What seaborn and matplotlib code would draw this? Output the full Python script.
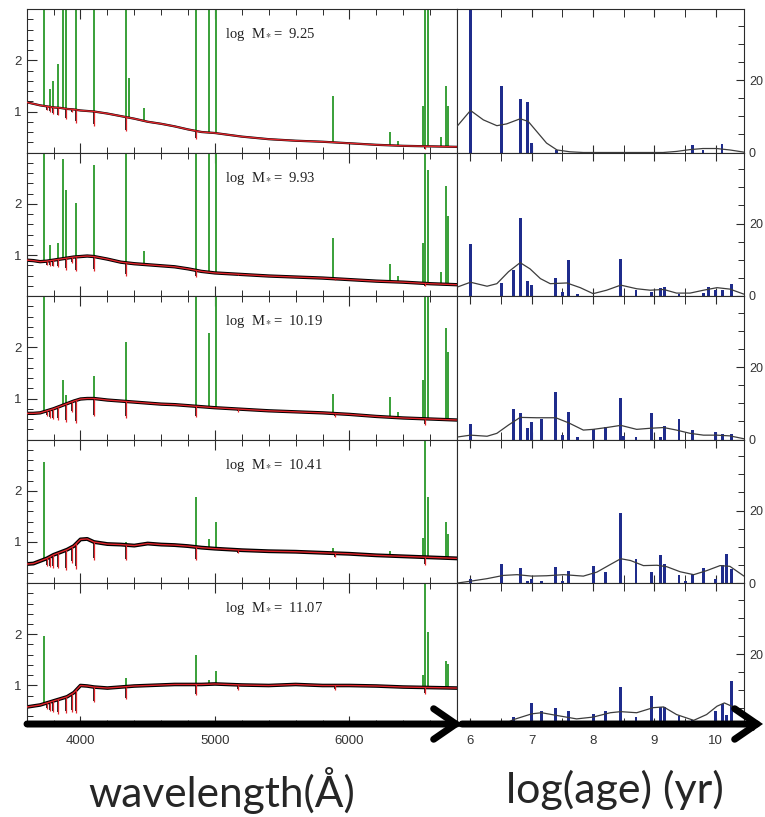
import numpy as np
import matplotlib
matplotlib.use('Agg')
import matplotlib.pyplot as plt
import seaborn as sns
from matplotlib.ticker import MultipleLocator, FixedLocator
from matplotlib.patches import FancyArrowPatch

sns.set_style('ticks')
plt.rcParams['font.family'] = ['Liberation Sans', 'DejaVu Sans']
plt.rcParams['mathtext.fontset'] = 'stix'

# ---------------- data ----------------
LOG_MASS = ['9.25', '9.93', '10.19', '10.41', '11.07']

# continuum of the spectra (normalised flux) at these wavelengths
CONT_WL = [3600, 3650, 3700, 3750, 3800, 3850, 3900, 3950, 4000, 4050, 4100, 4200, 4300,
           4400, 4500, 4600, 4700, 4800, 4900, 5000, 5200, 5400, 5600, 5800, 6000, 6200,
           6400, 6600, 6800]
CONT_1 = [1.18, 1.15, 1.12, 1.10, 1.08, 1.07, 1.05, 1.04, 1.02, 1.01, 1.00, 0.96, 0.91,
          0.86, 0.80, 0.76, 0.71, 0.65, 0.60, 0.58, 0.51, 0.46, 0.43, 0.41, 0.38, 0.35,
          0.33, 0.32, 0.31]
CONT_2 = [0.90, 0.89, 0.87, 0.88, 0.90, 0.92, 0.94, 0.96, 0.97, 0.98, 0.97, 0.92, 0.86,
          0.83, 0.81, 0.79, 0.77, 0.73, 0.68, 0.65, 0.62, 0.59, 0.57, 0.55, 0.52, 0.49,
          0.47, 0.44, 0.42]
CONT_3 = [0.71, 0.71, 0.72, 0.76, 0.80, 0.85, 0.90, 0.95, 0.99, 1.00, 1.00, 0.97, 0.95,
          0.93, 0.91, 0.89, 0.88, 0.86, 0.84, 0.82, 0.79, 0.76, 0.74, 0.72, 0.69, 0.65,
          0.62, 0.60, 0.58]
CONT_4 = [0.57, 0.58, 0.63, 0.68, 0.75, 0.80, 0.85, 0.92, 1.05, 1.06, 1.00, 0.96, 0.95,
          0.93, 0.97, 0.95, 0.94, 0.92, 0.89, 0.87, 0.84, 0.82, 0.81, 0.79, 0.77, 0.74,
          0.72, 0.70, 0.68]
CONT_5 = [0.58, 0.60, 0.62, 0.66, 0.70, 0.74, 0.78, 0.86, 1.00, 0.99, 0.97, 0.95, 0.97,
          0.99, 1.00, 1.01, 1.02, 1.02, 1.02, 1.03, 1.01, 1.00, 1.02, 1.00, 1.00, 0.99,
          0.97, 0.96, 0.95]
CONTINUA = [CONT_1, CONT_2, CONT_3, CONT_4, CONT_5]

# absorption features (depth below continuum)
ABS_WL = [3750, 3771, 3798, 3835, 3889, 3934, 3970, 4101, 4340, 4861, 5175, 5890, 6563]
ABS_DEPTH = [
    [0.08, 0.10, 0.12, 0.15, 0.20, 0.05, 0.25, 0.28, 0.28, 0.15, 0.00, 0.00, 0.06],
    [0.08, 0.10, 0.12, 0.15, 0.22, 0.10, 0.28, 0.28, 0.25, 0.12, 0.02, 0.03, 0.06],
    [0.10, 0.15, 0.20, 0.25, 0.35, 0.20, 0.45, 0.35, 0.32, 0.20, 0.05, 0.06, 0.12],
    [0.15, 0.20, 0.25, 0.30, 0.38, 0.30, 0.50, 0.35, 0.30, 0.25, 0.06, 0.08, 0.15],
    [0.12, 0.18, 0.22, 0.28, 0.30, 0.35, 0.45, 0.30, 0.25, 0.20, 0.10, 0.08, 0.12],
]

# emission lines (peak flux, 0 = not seen)
EMIS_WL = [3727, 3771, 3798, 3835, 3869, 3889, 3970, 4101, 4340, 4363, 4471, 4861, 4959,
           5007, 5876, 6300, 6364, 6548, 6563, 6584, 6678, 6717, 6731]
EMIS_PEAK = [
    [3.5, 1.44, 1.60, 1.92, 3.5, 3.5, 3.5, 3.5, 3.5, 1.66, 1.07, 3.5, 3.5, 3.5, 1.31, 0.60,
     0.43, 1.10, 3.5, 3.5, 0.50, 1.49, 1.10],
    [3.5, 1.19, 0.0, 1.23, 2.87, 2.27, 2.01, 2.76, 3.5, 0.0, 1.08, 3.5, 3.5, 3.5, 1.34, 0.83,
     0.60, 1.23, 3.5, 2.66, 0.66, 2.34, 1.77],
    [3.5, 0.0, 0.0, 0.0, 1.36, 1.07, 0.0, 1.44, 2.11, 0.0, 0.0, 3.5, 2.27, 3.5, 1.08, 1.02,
     0.73, 1.36, 3.5, 3.0, 0.0, 2.37, 1.90],
    [2.57, 0.0, 0.0, 0.0, 0.0, 0.0, 0.0, 0.0, 1.0, 0.0, 0.0, 1.87, 1.05, 1.40, 0.88, 0.82,
     0.0, 1.08, 3.5, 1.87, 0.0, 1.39, 1.16],
    [1.97, 0.0, 0.0, 0.0, 0.0, 0.0, 0.0, 0.0, 1.15, 0.0, 0.0, 1.60, 1.10, 1.28, 0.0, 0.0,
     0.0, 1.20, 3.5, 2.05, 0.0, 1.48, 1.41],
]
NOISE_LW = [1.6, 2.4, 2.4, 2.8, 2.6]

# star formation history: bars and smoothed curve
BAR_AGE = [
    [6.0, 6.5, 6.81, 6.93, 6.99, 7.4, 9.62, 9.79, 10.1],
    [6.0, 6.5, 6.70, 6.81, 6.93, 7.0, 7.39, 7.50, 7.60, 7.74, 8.45, 8.70, 8.95, 9.10, 9.16,
     9.40, 9.80, 9.88, 10.0, 10.11, 10.26],
    [6.0, 6.70, 6.81, 6.93, 7.0, 7.16, 7.39, 7.50, 7.60, 7.74, 8.0, 8.20, 8.45, 8.50, 8.70,
     8.95, 9.10, 9.16, 9.40, 9.62, 10.0, 10.11, 10.26],
    [6.0, 6.5, 6.81, 6.93, 7.0, 7.16, 7.39, 7.50, 7.60, 8.0, 8.20, 8.45, 8.70, 8.95, 9.10,
     9.16, 9.40, 9.50, 9.62, 9.80, 10.0, 10.11, 10.17, 10.26],
    [6.0, 6.70, 6.93, 7.0, 7.16, 7.39, 7.60, 8.0, 8.20, 8.45, 8.70, 8.95, 9.10, 9.16, 9.40,
     9.62, 10.0, 10.11, 10.17, 10.26],
]
BAR_HEIGHT = [
    [45, 18.4, 14.9, 14.0, 2.6, 0.7, 2.0, 0.7, 2.3],
    [14.3, 3.7, 7.1, 21.6, 4.2, 3.1, 4.9, 1.1, 9.8, 0.6, 10.2, 1.6, 1.1, 2.2, 2.4, 0.6, 0.8,
     2.6, 1.6, 1.7, 3.2],
    [4.3, 8.3, 7.4, 3.2, 4.8, 5.6, 13.1, 1.2, 7.6, 0.7, 2.8, 3.4, 11.5, 0.9, 0.7, 7.3, 0.7,
     3.7, 5.6, 2.6, 2.1, 1.4, 1.6],
    [1.2, 5.3, 4.2, 0.65, 1.0, 0.65, 4.5, 0.6, 3.2, 4.6, 3.0, 19.4, 6.6, 3.0, 7.7, 5.3, 2.3,
     0.6, 2.5, 4.2, 1.0, 5.1, 8.1, 4.0],
    [1.5, 2.6, 1.5, 6.6, 4.4, 5.1, 4.3, 3.5, 4.3, 10.9, 2.7, 8.4, 5.4, 5.4, 3.0, 1.7, 4.4,
     6.3, 3.3, 12.6],
]
CURVE_AGE = [
    [5.78, 6.0, 6.21, 6.43, 6.59, 6.81, 6.94, 7.08, 7.24, 7.41, 7.62, 7.84, 9.14, 9.36, 9.58,
     9.79, 10.01, 10.23, 10.46],
    [5.79, 6.0, 6.27, 6.43, 6.62, 6.81, 6.97, 7.14, 7.30, 7.57, 7.79, 8.0, 8.22, 8.45, 8.71,
     8.93, 9.15, 9.36, 9.58, 9.80, 10.02, 10.23, 10.46],
    [5.79, 6.0, 6.27, 6.43, 6.62, 6.81, 7.08, 7.39, 7.60, 7.84, 8.0, 8.22, 8.45, 8.71, 8.93,
     9.15, 9.36, 9.58, 9.80, 10.02, 10.23, 10.46],
    [5.79, 6.0, 6.27, 6.54, 6.76, 7.0, 7.24, 7.52, 7.84, 8.06, 8.28, 8.45, 8.61, 8.82, 9.04,
     9.20, 9.42, 9.64, 9.85, 10.07, 10.23, 10.46],
    [6.48, 6.70, 7.0, 7.16, 7.39, 7.73, 8.0, 8.28, 8.45, 8.71, 8.98, 9.15, 9.36, 9.64, 9.85,
     10.02, 10.14, 10.26, 10.46],
]
CURVE_VAL = [
    [7.2, 11.6, 9.0, 7.4, 7.9, 9.3, 8.6, 5.8, 2.6, 0.7, 0.2, 0.0, 0.0, 0.3, 0.8, 1.1, 1.1,
     0.7, 0.1],
    [2.5, 3.8, 2.7, 3.4, 6.7, 9.2, 7.5, 4.8, 3.4, 3.6, 2.3, 0.65, 1.6, 3.0, 2.0, 1.6, 1.8,
     0.8, 0.8, 1.6, 2.3, 1.9, 0.5],
    [0.7, 1.2, 0.9, 1.7, 4.0, 6.1, 6.0, 6.0, 4.6, 2.6, 2.8, 3.3, 3.9, 2.8, 3.1, 3.3, 2.6,
     1.7, 1.2, 1.2, 1.0, 0.2],
    [0.0, 0.5, 1.2, 2.1, 2.3, 1.9, 2.0, 2.3, 1.9, 3.0, 5.1, 6.7, 6.2, 4.8, 4.9, 4.5, 3.1,
     2.3, 3.4, 4.8, 4.6, 1.9],
    [0.0, 1.9, 3.5, 3.8, 3.1, 2.1, 2.6, 3.8, 4.1, 3.8, 5.2, 5.4, 3.3, 1.7, 3.3, 5.6, 6.5,
     5.6, 2.9],
]

GREEN = '#38a038'
RED = '#e0252b'
NAVY = '#1f2c8c'
FRAME = '#2b2b2b'

fig = plt.figure(figsize=(7.65, 8.17), dpi=100)
gs = fig.add_gridspec(5, 2, width_ratios=[430.3, 287],
                      left=26.7 / 765, right=744 / 765,
                      top=1 - 9 / 817, bottom=1 - 726.5 / 817,
                      hspace=0, wspace=0)

for i in range(5):
    axL = fig.add_subplot(gs[i, 0])
    axR = fig.add_subplot(gs[i, 1])
    cont = CONTINUA[i]

    # emission lines (green) from the continuum up
    peak = np.array(EMIS_PEAK[i])
    base = np.interp(EMIS_WL, CONT_WL, cont)
    keep = peak > base
    axL.vlines(np.array(EMIS_WL)[keep], base[keep], peak[keep], color=GREEN, lw=1.4, zorder=1)

    # observed (black) and model (red) spectra
    abs_base = np.interp(ABS_WL, CONT_WL, cont)
    depth = np.array(ABS_DEPTH[i])
    sns.lineplot(x=CONT_WL, y=cont, color='black', lw=NOISE_LW[i], ax=axL, zorder=2)
    axL.vlines(ABS_WL, abs_base - depth * 0.9, abs_base, color='black', lw=1.2, zorder=2)
    sns.lineplot(x=CONT_WL, y=cont, color=RED, lw=1.0, ax=axL, zorder=3)
    axL.vlines(ABS_WL, abs_base - depth, abs_base, color=RED, lw=0.9, zorder=3)

    axL.text(0.461, 0.82, r'log  M$_*$=  ' + LOG_MASS[i], transform=axL.transAxes,
             fontsize=10.5, family='Liberation Serif', va='center', ha='left', color='#222222')

    axL.set_xlim(3600, 6800)
    axL.set_ylim(0.2, 3.0)
    axL.xaxis.set_major_locator(MultipleLocator(1000))
    axL.xaxis.set_minor_locator(MultipleLocator(200))
    axL.yaxis.set_major_locator(FixedLocator([1, 2]))
    axL.yaxis.set_minor_locator(MultipleLocator(0.2))
    axL.tick_params(which='both', direction='in', top=True, bottom=True, left=True,
                    right=False, colors=FRAME, labelsize=9.5, labelcolor='#333333')
    axL.tick_params(which='major', length=7, width=0.8)
    axL.tick_params(which='minor', length=4, width=0.7)
    axL.tick_params(axis='x', labelbottom=(i == 4), pad=6)

    # star formation history
    axR.bar(BAR_AGE[i], BAR_HEIGHT[i], width=0.045, color=NAVY, linewidth=0, zorder=2)
    sns.lineplot(x=CURVE_AGE[i], y=CURVE_VAL[i], color='#3c3c3c', lw=0.9, ax=axR, zorder=3)
    axR.set_xlim(5.78, 10.46)
    axR.set_ylim(0, 39.6)
    axR.xaxis.set_major_locator(MultipleLocator(1))
    axR.xaxis.set_minor_locator(MultipleLocator(0.5))
    axR.yaxis.set_major_locator(FixedLocator([0, 20]))
    axR.yaxis.set_minor_locator(MultipleLocator(5))
    axR.yaxis.tick_right()
    axR.tick_params(which='both', direction='in', top=True, bottom=True, left=False,
                    right=True, colors=FRAME, labelsize=9, labelcolor='#333333')
    axR.tick_params(which='major', length=6, width=0.8)
    axR.tick_params(which='minor', length=4, width=0.7)
    axR.tick_params(axis='x', which='minor', length=6)
    axR.tick_params(axis='x', labelbottom=(i == 4), pad=6, labelsize=9.5)
    axR.tick_params(axis='y', pad=3.5)

    for ax in (axL, axR):
        ax.set_xlabel('')
        ax.set_ylabel('')
        for sp in ax.spines.values():
            sp.set_color(FRAME)
            sp.set_linewidth(0.8)

# big arrows along the bottom axes
y_arrow = 1 - 724 / 817
for x0, x1 in [(27 / 765, 462 / 765), (462 / 765, 763 / 765)]:
    arr = FancyArrowPatch((x0, y_arrow), (x1, y_arrow), transform=fig.transFigure,
                          arrowstyle='->,head_length=0.8,head_width=0.55',
                          mutation_scale=20, lw=5, color='black',
                          shrinkA=0, shrinkB=0, capstyle='round', joinstyle='miter')
    fig.add_artist(arr)

fig.text(222 / 765, 1 - 790 / 817, 'wavelength(Å)', ha='center', va='center',
         fontsize=30.5, family=['Lato', 'DejaVu Sans'])
fig.text(615 / 765, 1 - 790 / 817, 'log(age) (yr)', ha='center', va='center',
         fontsize=31, family=['Lato', 'DejaVu Sans'])

fig.savefig('out.png', dpi=100)
